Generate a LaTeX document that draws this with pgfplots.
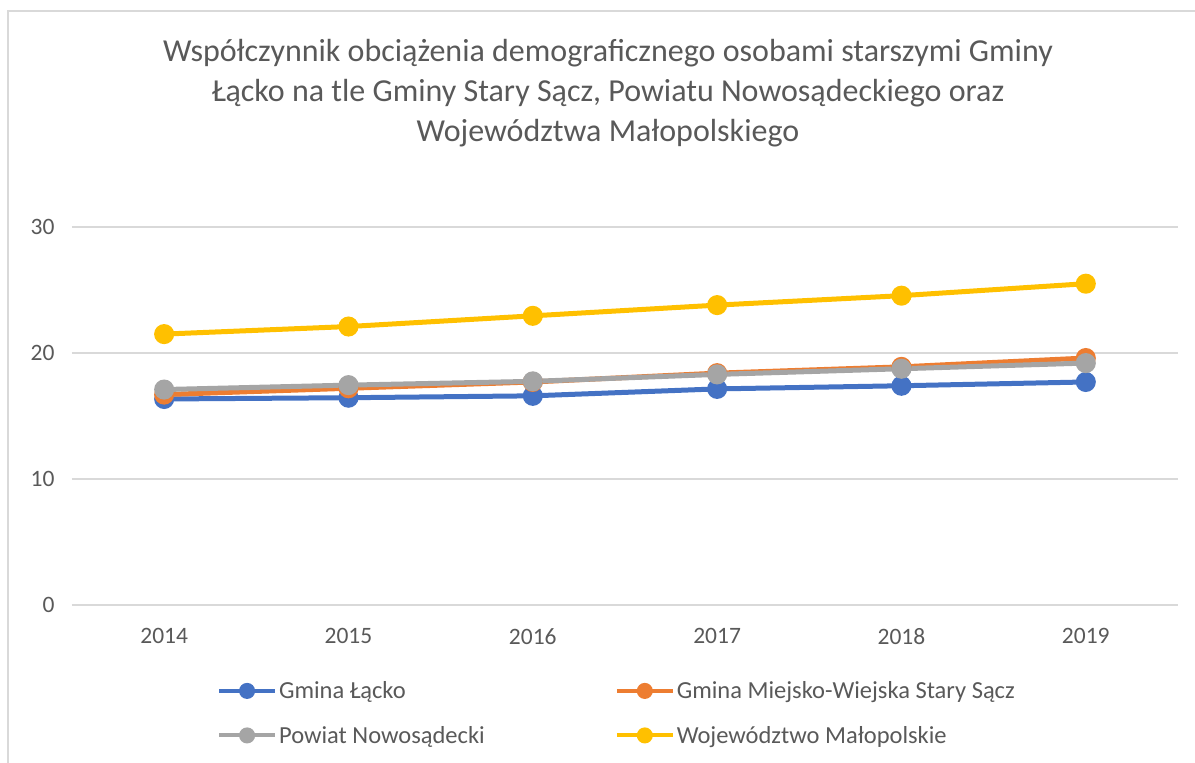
\documentclass[border=0pt]{standalone}
\usepackage{fontspec}
\setmainfont{Carlito}
\usepackage{pgfplots}
\pgfplotsset{compat=1.18}
\definecolor{txt}{HTML}{595959}
\definecolor{gridc}{HTML}{D9D9D9}
\definecolor{sblue}{HTML}{4472C4}
\definecolor{sorange}{HTML}{ED7D31}
\definecolor{sgray}{HTML}{A5A5A5}
\definecolor{syellow}{HTML}{FFC000}
\begin{document}
\begin{tikzpicture}[x=1pt,y=1pt]
\useasboundingbox (0,0) rectangle (1195,763);
% chart frame (only left and top visible)
\draw[gridc, line width=1.5pt] (8,-20) -- (8,752) -- (1220,752);
\node[font=\fontsize{32}{40}\selectfont, text=txt, align=center, anchor=center] at (608,763-93)
  {Współczynnik obciążenia demograficznego osobami starszymi Gminy\\
   Łącko na tle Gminy Stary Sącz, Powiatu Nowosądeckiego oraz\\
   Województwa Małopolskiego};
\begin{axis}[
  at={(72pt,158pt)}, anchor=south west,
  scale only axis, width=1106pt, height=378pt,
  xmin=-0.5, xmax=5.5, ymin=0, ymax=30,
  xtick={0,1,2,3,4,5},
  xticklabels={2014,2015,2016,2017,2018,2019},
  ytick={0,10,20,30},
  ymajorgrids,
  grid style={gridc, line width=1.3pt},
  axis line style={draw=none},
  major tick length=0pt,
  tick label style={font=\fontsize{23.5}{27}\selectfont, text=txt},
  yticklabel style={xshift=-14pt},
  xticklabel style={yshift=-20pt},
  /pgf/number format/assume math mode=true,
  every axis plot/.append style={line width=5pt, mark=*, mark size=7.5pt},
  legend columns=2,
  legend cell align=left,
  legend style={draw=none, fill=none, inner sep=0pt,
    at={(0.131,-0.197)}, anchor=north west,
    font=\fontsize{24.5}{29}\selectfont, text=txt,
    nodes={inner sep=2pt},
    /tikz/every even column/.append style={column sep=128pt},
    row sep=22pt},
  legend image code/.code={\draw[line width=4pt, mark size=6pt, mark repeat=2, mark phase=2] plot coordinates {(0pt,0pt) (28pt,0pt) (56pt,0pt)};},
]
\addplot[sblue] coordinates {(0,16.35) (1,16.45) (2,16.6) (3,17.15) (4,17.4) (5,17.7)};
\addlegendentry{Gmina Łącko}
\addplot[sorange] coordinates {(0,16.7) (1,17.2) (2,17.7) (3,18.4) (4,18.9) (5,19.6)};
\addlegendentry{Gmina Miejsko-Wiejska Stary Sącz}
\addplot[sgray] coordinates {(0,17.1) (1,17.45) (2,17.75) (3,18.3) (4,18.75) (5,19.2)};
\addlegendentry{Powiat Nowosądecki}
\addplot[syellow] coordinates {(0,21.5) (1,22.1) (2,22.95) (3,23.8) (4,24.55) (5,25.5)};
\addlegendentry{Województwo Małopolskie}
\end{axis}
\end{tikzpicture}
\end{document}
